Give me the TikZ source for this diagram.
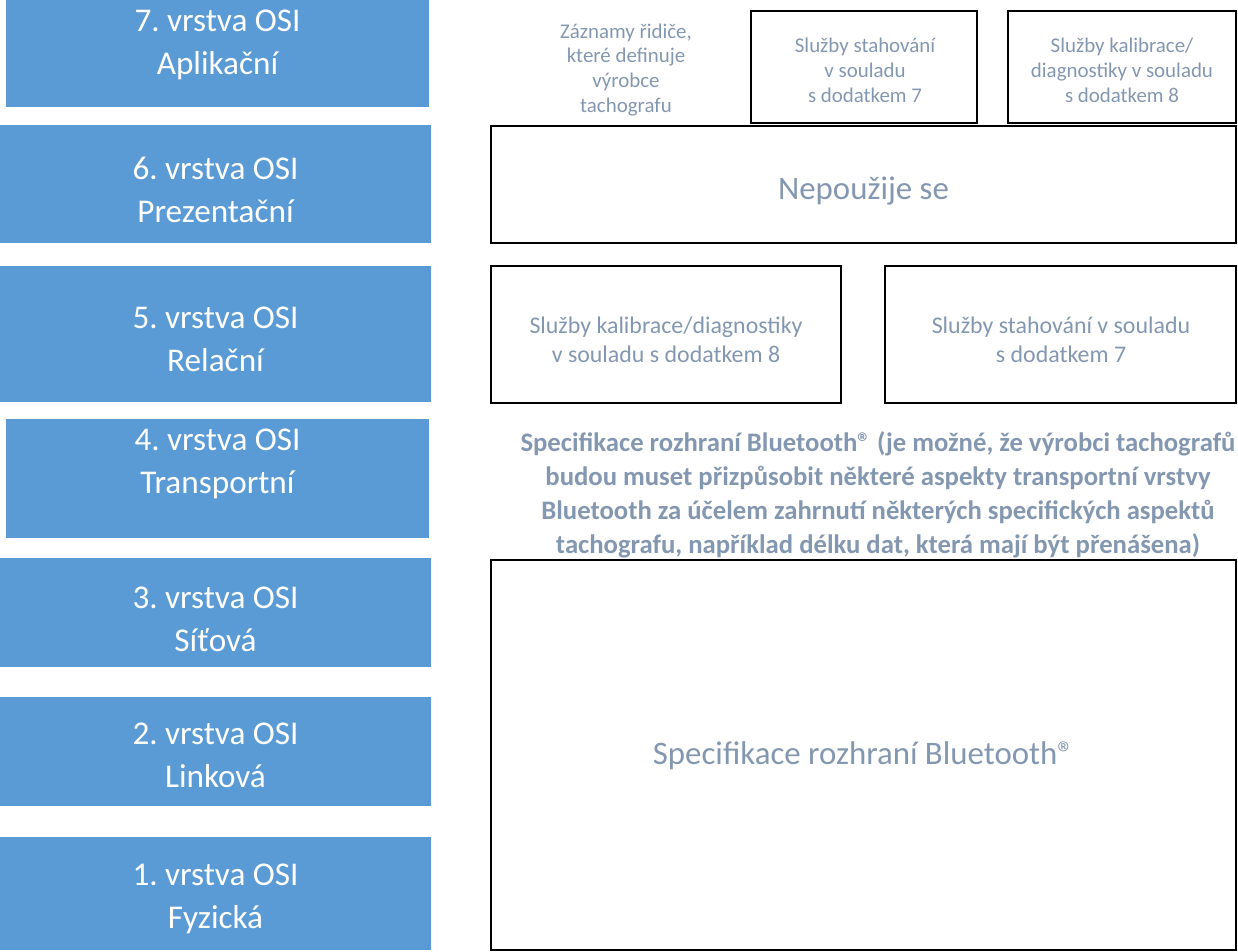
\documentclass[tikz,border=0pt]{standalone}
\usepackage{fontspec}
\setmainfont{Carlito}
\usetikzlibrary{positioning}
\definecolor{osiblue}{HTML}{5B9BD5}
\definecolor{osigray}{HTML}{8497B0}
\tikzset{
  layer/.style={fill=osiblue, inner sep=0pt},
  laytxt/.style={text=white, align=center, font=\fontsize{18.9}{24.6}\selectfont},
  svcbox/.style={draw=black, line width=1.1pt, inner sep=0pt, align=center, text=osigray},
  svctxt/.style={text=osigray, align=center},
  bigtxt/.style={font=\fontsize{18.7}{23.8}\selectfont},
  midtxt/.style={font=\fontsize{13.6}{16.6}\selectfont},
  smalltxt/.style={font=\fontsize{11.9}{14.2}\selectfont},
  notetxt/.style={text=osigray, align=center, font=\bfseries\fontsize{15.2}{19.3}\selectfont},
}
\newcommand{\px}{0.02cm}
\begin{document}
\begin{tikzpicture}[x=0.02cm, y=-0.02cm]
    \useasboundingbox (0,0) rectangle (1238,952);
    % OSI layers, left column
    \foreach \n/\xa/\ya/\xb/\yb/\ty/\nm in {7/6/0/429/107/45/Aplikační,
        6/0/125/431/243/190/Prezentační, 5/0/266/431/402/339/Relační,
        4/6/419/429/538/464/Transportní, 3/0/558/431/667/619/Síťová,
        2/0/697/431/806/755/Linková, 1/0/837/431/950/899/Fyzická} {
      \node[layer, minimum width={(\xb-\xa)*\px}, minimum height={(\yb-\ya)*\px}]
        (l\n) at ({(\xa+\xb)/2},{(\ya+\yb)/2}) {};
      \node[laytxt] (t\n) at ({(\xa+\xb)/2},\ty) {\n.~vrstva OSI\\\nm};
    }
    % layer 7
    \node[svctxt, smalltxt] (rec) at (626,70)
      {Záznamy řidiče,\\které definuje\\výrobce\\tachografu};
    \node[svcbox, smalltxt, minimum width=226*\px, minimum height=112*\px]
      (dl7) at (864,67) {};
    \node[svctxt, smalltxt] (dl7t) at (865,70) {Služby stahování\\v souladu\\s dodatkem 7};
    \node[svcbox, smalltxt, minimum width=228*\px, minimum height=112*\px]
      (cal7) at (1122,67) {};
    \node[svctxt, smalltxt] (cal7t) at (1122,70) {Služby kalibrace/\\diagnostiky v souladu\\s dodatkem 8};
    % layer 6
    \node[svcbox, minimum width=745*\px, minimum height=117*\px]
      (nu6) at (863.5,184.5) {};
    \node[svctxt, bigtxt] (nu6t) at (863.5,191) {Nepoužije se};
    % layer 5
    \node[svcbox, minimum width=350*\px, minimum height=137*\px]
      (cal5) at (666,334.5) {};
    \node[svctxt, midtxt] (cal5t) at (666,340) {Služby kalibrace/diagnostiky\\v souladu s dodatkem 8};
    \node[svcbox, minimum width=351*\px, minimum height=137*\px]
      (dl5) at (1060.5,334.5) {};
    \node[svctxt, midtxt] (dl5t) at (1061,340) {Služby stahování v souladu\\s dodatkem 7};
    % layer 4
    \node[notetxt] (bt4) at (878,495) {Specifikace rozhraní Bluetooth® (je možné, že výrobci tachografů\\
      budou muset přizpůsobit některé aspekty transportní vrstvy\\
      Bluetooth za účelem zahrnutí některých specifických aspektů\\
      tachografu, například délku dat, která mají být přenášena)};
    % layers 1-3
    \node[svcbox, minimum width=745*\px, minimum height=390*\px]
      (bt13) at (863.5,755) {};
    \node[svctxt, bigtxt] (bt13t) at (863.5,756) {Specifikace rozhraní Bluetooth®};
\end{tikzpicture}
\end{document}
